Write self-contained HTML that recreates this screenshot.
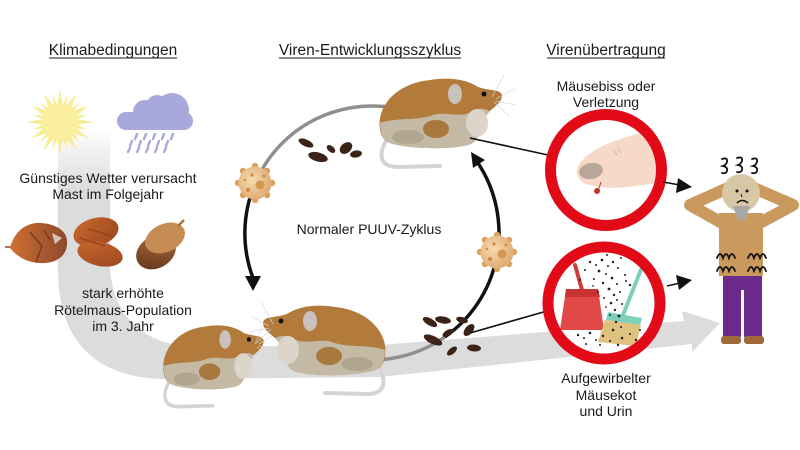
<!DOCTYPE html>
<html><head><meta charset="utf-8"><style>
html,body{margin:0;padding:0;background:#fff;}
svg{display:block;}
text{font-family:"Liberation Sans",Arial,sans-serif;fill:#1a1a1a;}
</style></head><body>
<svg width="800" height="450" viewBox="0 0 800 450" xmlns="http://www.w3.org/2000/svg">
<defs>
 <linearGradient id="bandG" x1="0" y1="128" x2="0" y2="190" gradientUnits="userSpaceOnUse">
  <stop offset="0" stop-color="#ffffff"/><stop offset="1" stop-color="#dcdcdc"/>
 </linearGradient>
 <radialGradient id="virG" cx="0.4" cy="0.4" r="0.7">
  <stop offset="0" stop-color="#f6dcb0"/><stop offset="1" stop-color="#dca56a"/>
 </radialGradient>
 <linearGradient id="seed1" x1="0" y1="0" x2="1" y2="0">
  <stop offset="0" stop-color="#cf6f30"/><stop offset="1" stop-color="#8d4a2e"/>
 </linearGradient>
 <linearGradient id="seed2" x1="0" y1="0" x2="1" y2="1">
  <stop offset="0" stop-color="#c9682c"/><stop offset="1" stop-color="#9a4720"/>
 </linearGradient>
 <linearGradient id="acornN" x1="0" y1="1" x2="1" y2="0">
  <stop offset="0" stop-color="#5e3118"/><stop offset="1" stop-color="#b0733f"/>
 </linearGradient>
 <g id="mouse">
  <path d="M 8,66 C 0,80 2,92 20,92 L 62,91" stroke="#d4d4d4" stroke-width="4" fill="none" stroke-linecap="round"/>
  <path d="M 2,55 C -2,30 20,8 52,5 C 70,2 88,4 100,12 C 112,16 122,14 124,20 C 124,28 116,32 112,36 C 106,42 104,48 102,55 C 100,62 98,68 90,70 C 70,75 30,74 12,68 C 5,65 3,60 2,55 Z" fill="#b27b3c"/>
  <path d="M 2,48 C 20,42 40,46 55,40 C 70,36 82,44 95,36 C 102,32 108,34 112,36 C 106,42 104,48 102,55 C 100,62 98,68 90,70 C 70,75 30,74 12,68 C 5,65 2,58 2,48 Z" fill="#c3b9a4"/>
  <ellipse cx="58" cy="54" rx="13" ry="9" fill="#a9783f"/>
  <ellipse cx="99" cy="48" rx="11" ry="14" fill="#dcd6ca"/>
  <ellipse cx="30" cy="62" rx="16" ry="7" fill="#b0a58e"/>
  <ellipse cx="77" cy="19" rx="7" ry="10" fill="#c9c2bc"/>
  <circle cx="106" cy="19" r="2.5" fill="#111"/>
  <g stroke="#d8d8d8" stroke-width="0.7">
   <line x1="118" y1="24" x2="136" y2="14"/><line x1="118" y1="26" x2="138" y2="30"/>
   <line x1="116" y1="27" x2="132" y2="42"/><line x1="114" y1="22" x2="126" y2="0"/>
  </g>
 </g>
 <g id="virus">
  <g fill="#d9a05f">
   <circle cx="0" cy="-17" r="3.2"/><circle cx="12" cy="-12" r="3.2"/><circle cx="17" cy="0" r="3.2"/>
   <circle cx="12" cy="12" r="3.2"/><circle cx="0" cy="17" r="3.2"/><circle cx="-12" cy="12" r="3.2"/>
   <circle cx="-17" cy="0" r="3.2"/><circle cx="-12" cy="-12" r="3.2"/>
  </g>
  <circle r="16.5" fill="url(#virG)"/>
  <circle cx="5" cy="2" r="4.5" fill="#d7974f"/>
  <circle cx="-7" cy="7" r="2" fill="#cf8a45"/>
  <circle cx="-3" cy="-8" r="1.6" fill="#cf8a45"/>
  <circle cx="9" cy="-7" r="1.5" fill="#cf8a45"/>
  <circle cx="-10" cy="-3" r="1.3" fill="#cf8a45"/>
 </g>
 <clipPath id="c1"><circle cx="606" cy="170" r="50"/></clipPath>
 <clipPath id="c2"><circle cx="604" cy="303" r="51"/></clipPath>
</defs>

<path d="M 58,130 L 58,270 C 58,345 100,380 170,379 L 380,377 L 692,344 L 692,352 L 720,323 L 682,311 L 684,321 L 380,345 L 200,347 C 140,347 110,312 110,262 L 110,130 Z" fill="url(#bandG)"/>

<text x="113" y="55" font-size="15.5" text-anchor="middle">Klimabedingungen</text>
<line x1="49" y1="58" x2="177" y2="58" stroke="#1a1a1a" stroke-width="1"/>
<text x="370" y="55" font-size="15.5" text-anchor="middle">Viren-Entwicklungsszyklus</text>
<line x1="279" y1="58" x2="461" y2="58" stroke="#1a1a1a" stroke-width="1"/>
<text x="606" y="55" font-size="15.5" text-anchor="middle">Virenübertragung</text>
<line x1="547" y1="58" x2="665" y2="58" stroke="#1a1a1a" stroke-width="1"/>

<g fill="#f8ec94">
 <g id="ray"><polygon points="57,106 63,106 60,89"/></g>
 <use href="#ray" transform="rotate(30 60 122)"/><use href="#ray" transform="rotate(60 60 122)"/>
 <use href="#ray" transform="rotate(90 60 122)"/><use href="#ray" transform="rotate(120 60 122)"/>
 <use href="#ray" transform="rotate(150 60 122)"/><use href="#ray" transform="rotate(180 60 122)"/>
 <use href="#ray" transform="rotate(210 60 122)"/><use href="#ray" transform="rotate(240 60 122)"/>
 <use href="#ray" transform="rotate(270 60 122)"/><use href="#ray" transform="rotate(300 60 122)"/>
 <use href="#ray" transform="rotate(330 60 122)"/>
 <g id="ray2"><polygon points="58,106 62,106 60,94" transform="rotate(15 60 122)"/></g>
 <use href="#ray2" transform="rotate(30 60 122)"/><use href="#ray2" transform="rotate(60 60 122)"/>
 <use href="#ray2" transform="rotate(90 60 122)"/><use href="#ray2" transform="rotate(120 60 122)"/>
 <use href="#ray2" transform="rotate(150 60 122)"/><use href="#ray2" transform="rotate(180 60 122)"/>
 <use href="#ray2" transform="rotate(210 60 122)"/><use href="#ray2" transform="rotate(240 60 122)"/>
 <use href="#ray2" transform="rotate(270 60 122)"/><use href="#ray2" transform="rotate(300 60 122)"/>
 <use href="#ray2" transform="rotate(330 60 122)"/>
</g>
<circle cx="60" cy="122" r="17" fill="#faf0a0"/>

<g fill="#a9a8dc">
 <circle cx="172" cy="110" r="17"/>
 <circle cx="145" cy="112" r="12"/>
 <circle cx="157" cy="106" r="11"/>
 <rect x="117" y="112" width="76" height="18" rx="9"/>
</g>
<g stroke="#a9a8dc" stroke-width="2.4" stroke-linecap="round">
 <line x1="137" y1="134" x2="135" y2="139"/><line x1="146" y1="134" x2="144" y2="139"/>
 <line x1="155" y1="134" x2="153" y2="139"/><line x1="164" y1="134" x2="162" y2="139"/>
 <line x1="173" y1="134" x2="171" y2="139"/>
 <line x1="132" y1="141" x2="130" y2="146"/><line x1="141" y1="141" x2="139" y2="146"/>
 <line x1="150" y1="141" x2="148" y2="146"/><line x1="159" y1="141" x2="157" y2="146"/>
 <line x1="168" y1="141" x2="166" y2="146"/>
 <line x1="130" y1="148" x2="128" y2="152"/><line x1="139" y1="148" x2="137" y2="152"/>
 <line x1="148" y1="148" x2="146" y2="152"/><line x1="157" y1="148" x2="155" y2="152"/>
 <line x1="166" y1="148" x2="164" y2="152"/>
</g>

<text x="108" y="183" font-size="14" text-anchor="middle">Günstiges Wetter verursacht</text>
<text x="108" y="199" font-size="14" text-anchor="middle">Mast im Folgejahr</text>

<path d="M 5,247 L 12,247" stroke="#8d4a2e" stroke-width="1.5"/>
<path d="M 10,248 C 14,232 26,222 41,223 C 56,224 67,231 67,241 C 68,253 60,262 45,263 C 30,264 18,258 10,248 Z" fill="url(#seed1)"/>
<path d="M 30,232 L 42,246 L 36,262 M 44,230 L 50,240" stroke="#7a3a22" stroke-width="1.5" fill="none"/>
<path d="M 52,233 L 62,238 L 55,244 Z" fill="#e8e0d8" opacity="0.8"/>
<ellipse cx="96" cy="232" rx="23" ry="14" transform="rotate(-15 96 232)" fill="url(#seed2)"/>
<ellipse cx="100" cy="254" rx="23" ry="12" transform="rotate(12 100 254)" fill="url(#seed2)"/>
<path d="M 80,238 L 105,246 M 88,229 L 112,236" stroke="#8a3d1b" stroke-width="1" fill="none"/>
<ellipse cx="156" cy="252" rx="21" ry="16" transform="rotate(-30 156 252)" fill="url(#acornN)"/>
<ellipse cx="165" cy="238" rx="21" ry="14" transform="rotate(-25 165 238)" fill="#c58b55"/>
<path d="M 178,226 L 184,220" stroke="#a8703e" stroke-width="2.5"/>

<text x="123" y="298" font-size="14" text-anchor="middle">stark erhöhte</text>
<text x="123" y="315" font-size="14" text-anchor="middle">Rötelmaus-Population</text>
<text x="123" y="331" font-size="14" text-anchor="middle">im 3. Jahr</text>

<path d="M 255.1,183.4 A 127 127 0 0 1 435.5,123" fill="none" stroke="#8f8f8f" stroke-width="3.5"/>
<path d="M 255.1,183.4 A 127 127 0 0 0 253,278" fill="none" stroke="#111" stroke-width="3.5"/>
<polygon points="245,276 261,276 253,291" fill="#111"/>
<path d="M 478.5,163.8 A 127 127 0 0 1 444.8,337" fill="none" stroke="#111" stroke-width="3.5"/>
<path d="M 444.8,337 A 127 127 0 0 1 350,358" fill="none" stroke="#8f8f8f" stroke-width="3.5"/>
<polygon points="471,152 485,160 473,168" fill="#111"/>

<text x="369" y="234" font-size="14" text-anchor="middle">Normaler PUUV-Zyklus</text>

<use href="#virus" transform="translate(255,183)"/>
<use href="#virus" transform="translate(497,252)"/>

<g fill="#3b2417">
 <ellipse cx="306" cy="143" rx="8" ry="3.5" transform="rotate(25 306 143)"/>
 <ellipse cx="318" cy="157" rx="10" ry="4.5" transform="rotate(15 318 157)"/>
 <ellipse cx="331" cy="149" rx="5" ry="3" transform="rotate(40 331 149)"/>
 <ellipse cx="346" cy="148" rx="7" ry="5" transform="rotate(-40 346 148)"/>
 <ellipse cx="356" cy="154" rx="6" ry="3.5" transform="rotate(-10 356 154)"/>
</g>
<g fill="#3b2417">
 <ellipse cx="430" cy="322" rx="8" ry="3.5" transform="rotate(30 430 322)"/>
 <ellipse cx="443" cy="320" rx="8" ry="3.5" transform="rotate(10 443 320)"/>
 <ellipse cx="433" cy="340" rx="10" ry="4" transform="rotate(25 433 340)"/>
 <ellipse cx="448" cy="333" rx="6" ry="3" transform="rotate(-30 448 333)"/>
 <ellipse cx="452" cy="351" rx="6" ry="3" transform="rotate(-40 452 351)"/>
 <ellipse cx="469" cy="330" rx="7" ry="4" transform="rotate(-50 469 330)"/>
 <ellipse cx="474" cy="348" rx="7" ry="3.5" transform="rotate(5 474 348)"/>
 <ellipse cx="462" cy="320" rx="6" ry="3" transform="rotate(15 462 320)"/>
</g>

<use href="#mouse" transform="translate(162,322) scale(0.82,0.92)"/>
<use href="#mouse" transform="translate(387,302) scale(-1,1)"/>
<use href="#mouse" transform="translate(378,75)"/>

<line x1="470" y1="138" x2="548" y2="155" stroke="#111" stroke-width="1.6"/>
<line x1="470" y1="333" x2="547" y2="311" stroke="#111" stroke-width="1.6"/>

<circle cx="606" cy="170" r="50" fill="#fff"/>
<g clip-path="url(#c1)">
 <path d="M 580,163 C 590,150 610,142 630,136 C 645,131 660,128 680,125 L 680,180 C 665,182 650,184 635,186 C 615,189 595,188 584,183 C 576,179 575,170 580,163 Z" fill="#f7d9c8"/>
 <ellipse cx="591" cy="171" rx="12" ry="8" transform="rotate(-10 591 171)" fill="#b8a698"/>
 <path d="M 614,150 l 3,5 M 618,148 l 3,5" stroke="#d9b5a3" stroke-width="1"/>
 <path d="M 598,191 L 601,182" stroke="#c0392b" stroke-width="1"/>
 <circle cx="597" cy="191" r="3" fill="#c0392b"/>
</g>
<circle cx="606" cy="170" r="55.5" fill="none" stroke="#e20a17" stroke-width="11"/>

<circle cx="604" cy="303" r="51" fill="#fff"/>
<g clip-path="url(#c2)">
 <line x1="575" y1="265" x2="582" y2="290" stroke="#d23a3a" stroke-width="4" stroke-linecap="round"/>
 <polygon points="566,289 598,289 604,330 560,330" fill="#e24848"/>
 <polygon points="566,289 598,289 600,297 565,297" fill="#c83434"/>
 <line x1="644" y1="262" x2="623" y2="315" stroke="#7fd0b8" stroke-width="4" stroke-linecap="round"/>
 <polygon points="608,312 642,318 640,325 606,320" fill="#7fd0b8"/>
 <polygon points="605,320 641,325 636,346 598,342" fill="#e0c27f"/>
 <g fill="#222">
  <circle cx="590" cy="262" r="1.2"/><circle cx="596" cy="265" r="1"/><circle cx="602" cy="260" r="1.3"/>
  <circle cx="608" cy="266" r="1"/><circle cx="613" cy="262" r="1.2"/><circle cx="618" cy="268" r="1"/>
  <circle cx="599" cy="271" r="1.4"/><circle cx="606" cy="274" r="1"/><circle cx="612" cy="278" r="1.3"/>
  <circle cx="594" cy="279" r="1"/><circle cx="603" cy="283" r="1.2"/><circle cx="617" cy="284" r="1"/>
  <circle cx="609" cy="289" r="1.4"/><circle cx="598" cy="292" r="1"/><circle cx="614" cy="295" r="1.2"/>
  <circle cx="604" cy="298" r="1"/><circle cx="620" cy="292" r="1"/><circle cx="611" cy="303" r="1.3"/>
  <circle cx="615" cy="310" r="1.2"/><circle cx="619" cy="316" r="1.4"/><circle cx="616" cy="322" r="1.2"/>
  <circle cx="621" cy="327" r="1"/><circle cx="613" cy="330" r="1.3"/><circle cx="585" cy="270" r="1"/>
  <circle cx="580" cy="280" r="1"/><circle cx="625" cy="275" r="1"/><circle cx="630" cy="285" r="1.2"/>
  <circle cx="578" cy="335" r="1.2"/><circle cx="584" cy="338" r="1"/><circle cx="590" cy="333" r="1.3"/>
  <circle cx="596" cy="340" r="1"/><circle cx="603" cy="336" r="1.2"/><circle cx="610" cy="341" r="1"/>
  <circle cx="622" cy="338" r="1.3"/><circle cx="630" cy="334" r="1"/><circle cx="636" cy="340" r="1.2"/>
  <circle cx="640" cy="330" r="1"/><circle cx="586" cy="344" r="1"/><circle cx="600" cy="345" r="1"/>
  <circle cx="618" cy="345" r="1.2"/><circle cx="626" cy="281" r="1"/><circle cx="607" cy="255" r="1"/>
  <circle cx="621" cy="258" r="1"/><circle cx="593" cy="286" r="0.9"/><circle cx="622" cy="304" r="1"/>
  <circle cx="610" cy="315" r="1"/><circle cx="617" cy="300" r="1"/><circle cx="606" cy="307" r="0.9"/>
 </g>
</g>
<circle cx="604" cy="303" r="56" fill="none" stroke="#e20a17" stroke-width="11"/>

<line x1="663" y1="182" x2="680" y2="185" stroke="#111" stroke-width="1.6"/>
<polygon points="678,178 692,187 676,193" fill="#111"/>
<line x1="667" y1="286" x2="680" y2="283" stroke="#111" stroke-width="1.6"/>
<polygon points="676,275 692,280 679,290" fill="#111"/>

<text x="606" y="91" font-size="14" text-anchor="middle">Mäusebiss oder</text>
<text x="606" y="107" font-size="14" text-anchor="middle">Verletzung</text>
<text x="606" y="383" font-size="14" text-anchor="middle">Aufgewirbelter</text>
<text x="606" y="400" font-size="14" text-anchor="middle">Mäusekot</text>
<text x="606" y="416" font-size="14" text-anchor="middle">und Urin</text>

<g stroke="#c9995e" stroke-width="12" stroke-linejoin="round" stroke-linecap="round" fill="none">
 <polyline points="724,224 690,205 728,188"/>
 <polyline points="758,224 793,205 754,188"/>
</g>
<rect x="719" y="213" width="44" height="63" fill="#c9995e"/>
<circle cx="741" cy="193" r="19" fill="#d7c7a6"/>
<path d="M 733,206 L 750,206 L 745,220 L 738,220 Z" fill="#a8a8a8"/>
<circle cx="737" cy="191" r="1.5" fill="#111"/>
<circle cx="747" cy="191" r="1.5" fill="#111"/>
<path d="M 741,194 l 1,3" stroke="#111" stroke-width="1"/>
<path d="M 737,203 Q 742,198 748,203" stroke="#111" stroke-width="1.5" fill="none"/>
<g stroke="#111" stroke-width="1.8" fill="none" stroke-linecap="round">
 <path d="M 722,159 q 6,-2 5,3 q -1,3 -4,4 q 5,1 4,5 q -1,3 -5,2"/>
 <path d="M 737,158 q 6,-2 5,3 q -1,3 -4,4 q 5,1 4,5 q -1,3 -5,2"/>
 <path d="M 752,159 q 6,-2 5,3 q -1,3 -4,4 q 5,1 4,5 q -1,3 -5,2"/>
 <path d="M 717,258 q 3,-8 6,0 q 3,-8 6,0 q 3,-8 6,0"/>
 <path d="M 748,258 q 3,-8 6,0 q 3,-8 6,0 q 3,-8 6,0"/>
 <path d="M 717,271 q 3,-8 6,0 q 3,-8 6,0 q 3,-8 6,0"/>
 <path d="M 748,271 q 3,-8 6,0 q 3,-8 6,0 q 3,-8 6,0"/>
</g>
<rect x="723" y="276" width="39" height="61" fill="#6b2a8c"/>
<line x1="742.5" y1="290" x2="742.5" y2="338" stroke="#fff" stroke-width="3"/>
<rect x="721" y="336" width="20" height="8" rx="3" fill="#a0693a"/>
<rect x="744" y="336" width="20" height="8" rx="3" fill="#a0693a"/>
</svg>
</body></html>
